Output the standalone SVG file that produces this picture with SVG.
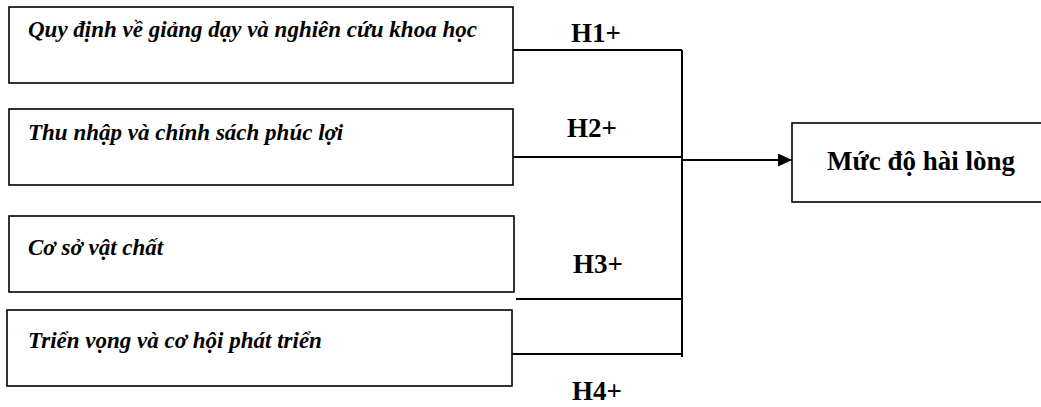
<svg xmlns="http://www.w3.org/2000/svg" width="1041" height="407" viewBox="0 0 1041 407">
  <style>
    .box { fill: #ffffff; stroke: #000000; stroke-width: 1.6; }
    .factor { font-family: 'Liberation Serif'; font-size: 23px; font-style: italic; font-weight: bold; fill: #000000; }
    .label { font-family: 'Liberation Serif'; font-size: 27px; font-weight: bold; fill: #000000; }
    .wire { fill: none; stroke: #000000; stroke-width: 2; }
  </style>
  <defs>
    <marker id="arrow" viewBox="0 0 14 13" refX="14" refY="6.5" markerWidth="14" markerHeight="13" markerUnits="userSpaceOnUse" orient="auto">
      <path d="M0,0 L14,6.5 L0,13 Z" fill="#000000"/>
    </marker>
  </defs>
  <rect width="1041" height="407" fill="#ffffff"/>

  <!-- input factors -->
  <g id="factor-1">
    <rect class="box" x="9" y="7" width="504" height="76"/>
    <text class="factor" x="28" y="37">Quy định về giảng dạy và nghiên cứu khoa học</text>
  </g>
  <g id="factor-2">
    <rect class="box" x="9" y="109" width="504" height="76"/>
    <text class="factor" x="28" y="140">Thu nhập và chính sách phúc lợi</text>
  </g>
  <g id="factor-3">
    <rect class="box" x="9" y="216" width="505" height="76"/>
    <text class="factor" x="28" y="255">Cơ sở vật chất</text>
  </g>
  <g id="factor-4">
    <rect class="box" x="7" y="310" width="505" height="76"/>
    <text class="factor" x="28" y="348">Triển vọng và cơ hội phát triển</text>
  </g>

  <!-- outcome -->
  <g id="outcome">
    <rect class="box" x="792" y="123" width="260" height="79"/>
    <text class="label" x="827" y="170">Mức độ hài lòng</text>
  </g>

  <!-- hypothesis links joined on a common bus -->
  <g id="connectors">
    <line class="wire" x1="513" y1="50" x2="682" y2="50"/>
    <line class="wire" x1="513" y1="157" x2="682" y2="157"/>
    <line class="wire" x1="516" y1="299" x2="682" y2="299"/>
    <line class="wire" x1="512" y1="354" x2="682" y2="354"/>
    <line class="wire" x1="682" y1="50" x2="682" y2="357"/>
    <line class="wire" x1="682" y1="160" x2="792" y2="160" marker-end="url(#arrow)"/>
    <text class="label" x="571" y="42">H1+</text>
    <text class="label" x="567" y="137">H2+</text>
    <text class="label" x="573" y="273">H3+</text>
    <text class="label" x="572" y="400">H4+</text>
  </g>
</svg>
